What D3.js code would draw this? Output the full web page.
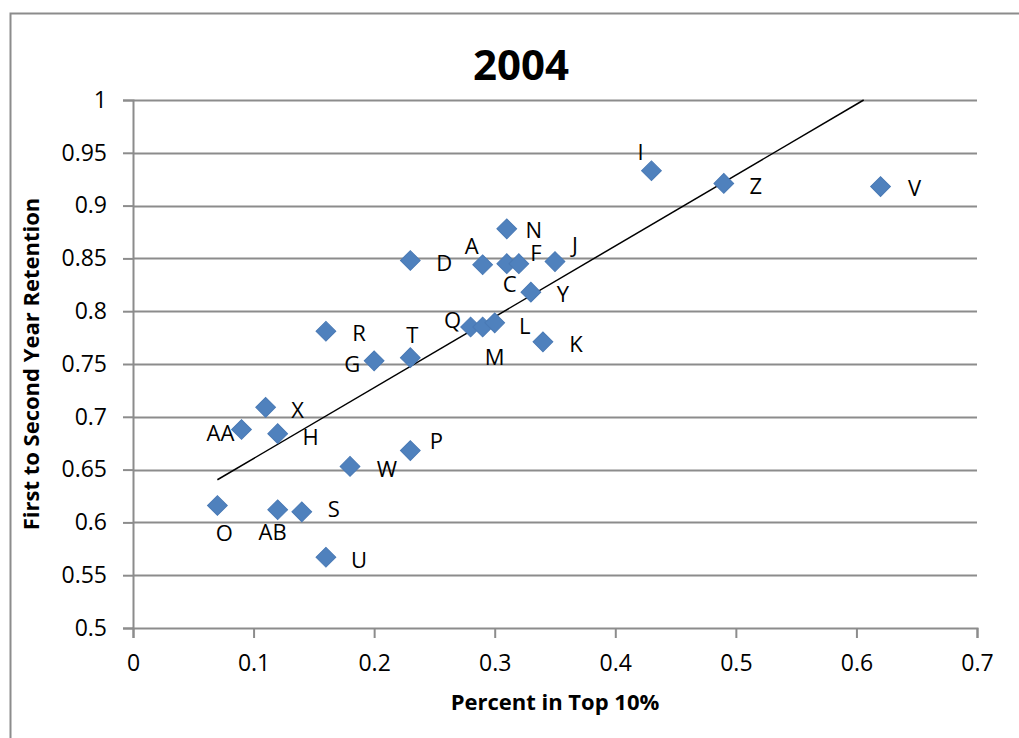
<!DOCTYPE html>
<html>
<head>
<meta charset="utf-8">
<script src="https://cdn.jsdelivr.net/npm/d3@7"></script>
<style>
  body { margin: 0; background: #fff; }
  text { font-family: "Open Sans", "Noto Sans", sans-serif; }
</style>
</head>
<body>
<div id="chart"></div>
<script>
// data
var names = ["I","Z","V","N","D","A","C","F","J","Y","R","Q","M","L","K","T","G","X","AA","H","P","W","O","AB","S","U"];
var topTen = [0.43,0.49,0.62,0.31,0.23,0.29,0.31,0.32,0.35,0.33,0.16,0.28,0.29,0.30,0.34,0.23,0.20,0.11,0.09,0.12,0.23,0.18,0.07,0.12,0.14,0.16];
var retention = [0.933,0.921,0.918,0.878,0.848,0.844,0.845,0.845,0.847,0.818,0.781,0.785,0.785,0.789,0.771,0.756,0.753,0.709,0.688,0.684,0.668,0.653,0.616,0.612,0.610,0.567];
var xTicks = [0,0.1,0.2,0.3,0.4,0.5,0.6,0.7];
var yTicks = [0.5,0.55,0.6,0.65,0.7,0.75,0.8,0.85,0.9,0.95,1];

// label offsets in px from the marker (layout only)
var labelOffset = {
  I:[-11,-19], Z:[32,3], V:[34,1], N:[27,1], D:[34,3], A:[-11,-19], C:[3,20], F:[17,-11],
  J:[20,-16], Y:[32,2], R:[33,2], Q:[-18,-7], M:[12,30], L:[30,3], K:[33,2], T:[2,-23],
  G:[-22,3], X:[32,3], AA:[-21,4], H:[33,3], P:[26,-10], W:[37,3], O:[7,28], AB:[-5,22],
  S:[32,-3], U:[33,3]
};

var W = 1019, H = 738;
var margin = { top: 100, right: 42, bottom: 110, left: 133 };
var width = W - margin.left - margin.right,
    height = H - margin.top - margin.bottom;

var svg = d3.select("#chart").append("svg")
  .attr("width", W).attr("height", H);

// outer chart frame
svg.append("rect")
  .attr("x", 10.5).attr("y", 13.5)
  .attr("width", W + 20).attr("height", H + 20)
  .attr("fill", "none").attr("stroke", "#8c8c8c").attr("stroke-width", 2);

var g = svg.append("g")
  .attr("transform", "translate(" + margin.left + "," + margin.top + ")");

var x = d3.scaleLinear().domain([0, 0.7]).range([0, width]);
var y = d3.scaleLinear().domain([0.5, 1]).range([height, 0]);

// gridlines
g.selectAll(".grid")
  .data(yTicks.slice(1))
  .enter().append("line")
  .attr("x1", 0).attr("x2", width)
  .attr("y1", function(d) { return Math.round(y(d)) + 0.5; })
  .attr("y2", function(d) { return Math.round(y(d)) + 0.5; })
  .attr("stroke", "#8c8c8c").attr("stroke-width", 2);

// y axis
var yAxis = g.append("g")
  .call(d3.axisLeft(y).tickValues(yTicks).tickSize(10).tickPadding(16)
    .tickFormat(function(d) { return d3.format("")(+d.toFixed(2)); }));
yAxis.select(".domain").attr("stroke", "#8c8c8c").attr("stroke-width", 2);
yAxis.selectAll(".tick line").attr("stroke", "#8c8c8c").attr("stroke-width", 2);
yAxis.selectAll("text").style("font-size", "23px").attr("fill", "#000");

// x axis
var xAxis = g.append("g")
  .attr("transform", "translate(0," + height + ")")
  .call(d3.axisBottom(x).tickValues(xTicks).tickSize(10).tickPadding(17)
    .tickFormat(function(d) { return d3.format("")(+d.toFixed(1)); }));
xAxis.select(".domain").attr("stroke", "#8c8c8c").attr("stroke-width", 2);
xAxis.selectAll(".tick line").attr("stroke", "#8c8c8c").attr("stroke-width", 2);
xAxis.selectAll("text").style("font-size", "23px").attr("fill", "#000");

// linear trendline (least squares), clipped to the plot
var n = topTen.length;
var mx = d3.mean(topTen), my = d3.mean(retention);
var sxy = 0, sxx = 0;
for (var i = 0; i < n; i++) {
  sxy += (topTen[i] - mx) * (retention[i] - my);
  sxx += (topTen[i] - mx) * (topTen[i] - mx);
}
var slope = sxy / sxx, intercept = my - slope * mx;
var x0 = d3.min(topTen), x1 = d3.max(topTen);
if (intercept + slope * x1 > 1) x1 = (1 - intercept) / slope;
g.append("line")
  .attr("x1", x(x0)).attr("y1", y(intercept + slope * x0))
  .attr("x2", x(x1)).attr("y2", y(intercept + slope * x1))
  .attr("stroke", "#000").attr("stroke-width", 1.5);

// markers
var points = names.map(function(d, i) { return { name: d, x: topTen[i], y: retention[i] }; });
g.selectAll(".pt")
  .data(points)
  .enter().append("path")
  .attr("d", d3.symbol().type(d3.symbolSquare).size(195))
  .attr("transform", function(d) { return "translate(" + x(d.x) + "," + y(d.y) + ") rotate(45)"; })
  .attr("fill", "#4f81bd")
  .attr("stroke", "#4a7ab5").attr("stroke-width", 1);

// labels
g.selectAll(".label")
  .data(points)
  .enter().append("text")
  .attr("x", function(d) { return x(d.x) + labelOffset[d.name][0]; })
  .attr("y", function(d) { return y(d.y) + labelOffset[d.name][1]; })
  .attr("dy", "0.36em")
  .attr("text-anchor", "middle")
  .style("font-size", "22px")
  .text(function(d) { return d.name; });

// title
svg.append("text")
  .attr("x", 521).attr("y", 80)
  .attr("text-anchor", "middle")
  .style("font-size", "42px").style("font-weight", "bold")
  .text("2004");

// axis titles
svg.append("text")
  .attr("x", 555).attr("y", 710)
  .attr("text-anchor", "middle")
  .style("font-size", "22px").style("font-weight", "bold")
  .text("Percent in Top 10%");

svg.append("text")
  .attr("transform", "translate(39,364) rotate(-90)")
  .attr("text-anchor", "middle")
  .style("font-size", "22px").style("font-weight", "bold")
  .text("First to Second Year Retention");
</script>
</body>
</html>
